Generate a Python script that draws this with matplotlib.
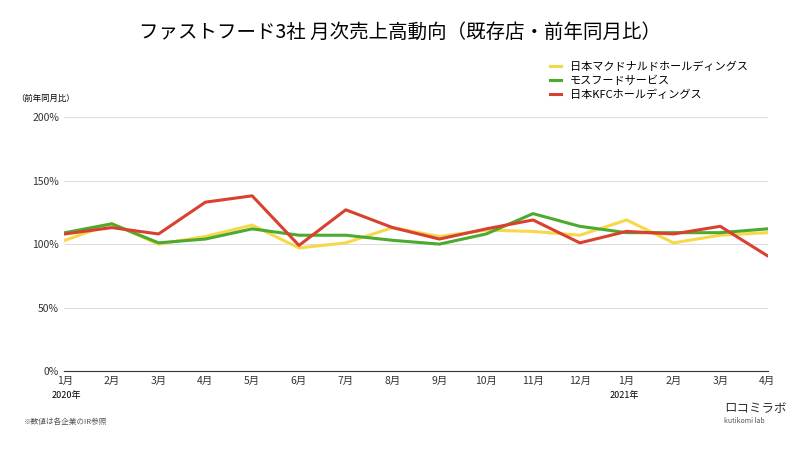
import matplotlib.pyplot as plt
import matplotlib.ticker as mticker

plt.rcParams['font.family'] = 'Noto Sans CJK JP'

months = ['1月', '2月', '3月', '4月', '5月', '6月', '7月', '8月', '9月', '10月',
          '11月', '12月', '1月', '2月', '3月', '4月']
mcd = [103, 116, 100, 106, 115, 97, 101, 113, 106, 111, 110, 107, 119, 101, 107, 109]
mos = [109, 116, 101, 104, 112, 107, 107, 103, 100, 108, 124, 114, 109, 109, 109, 112]
kfc = [108, 113, 108, 133, 138, 99, 127, 113, 104, 112, 119, 101, 110, 108, 114, 91]
names = ['日本マクドナルドホールディングス', 'モスフードサービス', '日本KFCホールディングス']
colors = ['#f6d84a', '#4caa2f', '#d84130']

fig = plt.figure(figsize=(8, 4.5), dpi=100)
ax = fig.add_axes([0.08, 0.175, 0.88, 0.565])
x = range(len(months))
for vals, name, c in zip([mcd, mos, kfc], names, colors):
    ax.plot(x, vals, color=c, lw=2.2, label=name)

ax.set_ylim(0, 200)
ax.set_xlim(-0.02, len(months) - 1 + 0.02)
ax.set_yticks([0, 50, 100, 150, 200])
ax.yaxis.set_major_formatter(mticker.FuncFormatter(lambda v, p: f'{int(v)}%'))
ax.set_xticks(list(x))
ax.set_xticklabels(months)
ax.tick_params(labelsize=7.5, length=0, colors='#333333')
ax.grid(axis='y', color='#dddddd', lw=0.8)
for s in ['top', 'right', 'left']:
    ax.spines[s].set_visible(False)
ax.spines['bottom'].set_color('#333333')

fig.text(0.5, 0.915, 'ファストフード3社 月次売上高動向（既存店・前年同月比）', ha='center', fontsize=14)
fig.text(0.02, 0.775, '（前年同月比）', fontsize=6)
fig.text(0.065, 0.115, '2020年', fontsize=6.5)
fig.text(0.762, 0.115, '2021年', fontsize=6.5)
fig.text(0.03, 0.058, '※数値は各企業のIR参照', fontsize=5.5, color='#555555')
fig.text(0.905, 0.085, 'ロコミラボ', fontsize=9, color='#333333')
fig.text(0.905, 0.06, 'kutikomi lab', fontsize=5, color='#555555')
fig.legend(loc='upper left', bbox_to_anchor=(0.675, 0.885), frameon=False,
           fontsize=8, handlelength=1.0, labelspacing=0.3)
fig.savefig('out.png', dpi=100)
